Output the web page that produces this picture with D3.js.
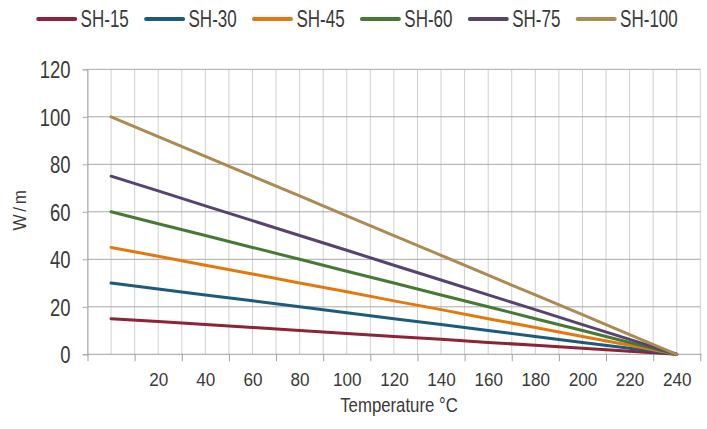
<!DOCTYPE html>
<html>
<head>
<meta charset="utf-8">
<script src="https://cdn.jsdelivr.net/npm/d3@7"></script>
<style>
  html, body { margin: 0; padding: 0; background: #fff; }
  svg { display: block; }
  text { font-family: "Liberation Sans", Arial, sans-serif; fill: #3a3a3a; }
</style>
</head>
<body>
<script>
// ---- data ----
const temperatures = [0, 20, 40, 60, 80, 100, 120, 140, 160, 180, 200, 220, 240];
const seriesNames = ["SH-15", "SH-30", "SH-45", "SH-60", "SH-75", "SH-100"];
const sh15  = [15, 13.8, 12.5, 11.3, 10, 8.8, 7.5, 6.3, 5, 3.8, 2.5, 1.3, 0];
const sh30  = [30, 27.5, 25, 22.5, 20, 17.5, 15, 12.5, 10, 7.5, 5, 2.5, 0];
const sh45  = [45, 41.3, 37.5, 33.8, 30, 26.3, 22.5, 18.8, 15, 11.3, 7.5, 3.8, 0];
const sh60  = [60, 55, 50, 45, 40, 35, 30, 25, 20, 15, 10, 5, 0];
const sh75  = [75, 68.8, 62.5, 56.3, 50, 43.8, 37.5, 31.3, 25, 18.8, 12.5, 6.3, 0];
const sh100 = [100, 91.7, 83.3, 75, 66.7, 58.3, 50, 41.7, 33.3, 25, 16.7, 8.3, 0];
const seriesValues = [sh15, sh30, sh45, sh60, sh75, sh100];
const colors = ["#8e2236", "#1c5b7c", "#e5780d", "#467a34", "#58426f", "#ad8a52"];
const xTickLabels = [20, 40, 60, 80, 100, 120, 140, 160, 180, 200, 220, 240];
const xTickMarks = [-10, 10, 30, 50, 70, 90, 110, 130, 150, 170, 190, 210, 230, 250];
const yTickLabels = [0, 20, 40, 60, 80, 100, 120];

// ---- layout ----
const W = 707, H = 429;
const pLeft = 87.5, pRight = 700.3, pTop = 69.3, pBottom = 354.3;

const svg = d3.select("body").append("svg").attr("width", W).attr("height", H);

const x = d3.scaleLinear().domain([-10, 250]).range([pLeft, pRight]);
const y = d3.scaleLinear().domain([0, 120]).range([pBottom, pTop]);

// vertical gridlines
svg.append("g").selectAll("line").data(d3.range(-10, 251, 10)).join("line")
  .attr("x1", d => x(d)).attr("x2", d => x(d))
  .attr("y1", pTop).attr("y2", pBottom)
  .attr("stroke", "#cfcfcf").attr("stroke-width", 1);

// horizontal gridlines
svg.append("g").selectAll("line").data(yTickLabels.filter(d => d > 0)).join("line")
  .attr("x1", pLeft).attr("x2", pRight)
  .attr("y1", d => y(d)).attr("y2", d => y(d))
  .attr("stroke", "#a8a8a8").attr("stroke-width", 1);

// y axis
const yAxis = svg.append("g")
  .attr("transform", `translate(${pLeft},0)`)
  .call(d3.axisLeft(y).tickValues(yTickLabels).tickSize(5).tickPadding(0));
yAxis.attr("font-family", null).attr("font-size", null);
yAxis.select(".domain").attr("stroke", "#a8a8a8");
yAxis.selectAll(".tick line").attr("stroke", "#a8a8a8");
yAxis.selectAll(".tick text")
  .attr("x", 0).attr("dy", "0.36em")
  .attr("font-size", 24)
  .attr("fill", "#3a3a3a")
  .attr("transform", "translate(-17,0) scale(0.77,1)");

// x axis line + tick marks
const xAxis = svg.append("g")
  .attr("transform", `translate(0,${pBottom})`)
  .call(d3.axisBottom(x).tickValues(xTickMarks).tickSize(7).tickFormat(""));
xAxis.select(".domain").attr("stroke", "#a0a0a0").attr("d", `M${pLeft},0H${pRight + 1.5}`);
xAxis.selectAll(".tick line").attr("stroke", "#a0a0a0");

// x labels
const xLab = svg.append("g")
  .attr("transform", `translate(0,${pBottom})`)
  .call(d3.axisBottom(x).tickValues(xTickLabels).tickSize(0).tickPadding(0));
xLab.attr("font-family", null).attr("font-size", null);
xLab.select(".domain").remove();
xLab.selectAll(".tick text")
  .attr("y", 31.4).attr("dy", 0)
  .attr("font-size", 19)
  .attr("fill", "#3a3a3a")
  .attr("transform", "scale(0.9,1)");

// lines
const line = d3.line().x((d, i) => x(temperatures[i])).y(d => y(d));
svg.append("g").selectAll("path").data(seriesValues).join("path")
  .attr("d", d => line(d))
  .attr("fill", "none")
  .attr("stroke", (d, i) => colors[i])
  .attr("stroke-width", 3)
  .attr("stroke-linejoin", "round")
  .attr("stroke-linecap", "round");

// axis titles
svg.append("text")
  .attr("transform", "translate(399,411.7) scale(0.86,1)")
  .attr("text-anchor", "middle")
  .attr("font-size", 19.5)
  .text("Temperature °C");

svg.append("text")
  .attr("transform", "translate(25.5,209) rotate(-90) scale(0.9,1)")
  .attr("text-anchor", "middle")
  .attr("font-size", 19)
  .attr("letter-spacing", 3)
  .text("W/m");

// legend
const leg = svg.append("g").selectAll("g").data(seriesNames).join("g")
  .attr("transform", (d, i) => `translate(${36.2 + i * 107.9},19)`);
leg.append("line")
  .attr("x1", 2).attr("x2", 39).attr("y1", 0).attr("y2", 0)
  .attr("stroke", (d, i) => colors[i])
  .attr("stroke-width", 4)
  .attr("stroke-linecap", "round");
leg.append("text")
  .attr("x", 0).attr("dy", "0.36em")
  .attr("font-size", 23)
  .attr("transform", "translate(44.4,0) scale(0.74,1)")
  .text(d => d);
</script>
</body>
</html>
